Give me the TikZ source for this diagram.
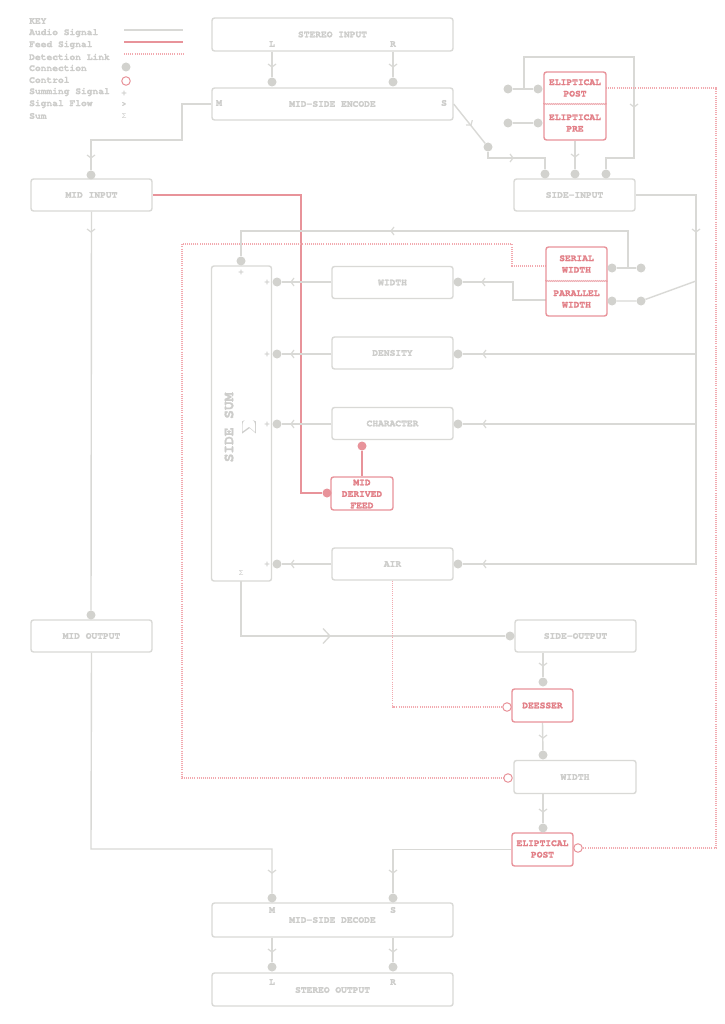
\documentclass[tikz,border=0pt]{standalone}
\usepackage{fontspec}
\setmonofont{TeX Gyre Cursor}[BoldFeatures={FakeBold=1.6}]
\newfontfamily\greekmono{Liberation Mono}
\usetikzlibrary{decorations.pathmorphing}
\pgfdeclarelayer{bg}
\pgfsetlayers{bg,main}
\definecolor{gl}{HTML}{D9D9D6}
\definecolor{gd}{HTML}{D2D2CE}
\definecolor{gt}{HTML}{CDCDCB}
\definecolor{rl}{HTML}{E8939A}
\definecolor{rdet}{HTML}{F2A9AF}
\definecolor{rt}{HTML}{E27F87}
\begin{document}
\begin{tikzpicture}[x=1pt,y=-1pt,
  every node/.style={font=\ttfamily\bfseries\fontsize{9.6}{11.5}\selectfont, inner sep=0pt, text=gt},
  box/.style={draw=gl, line width=1.4pt, rounded corners=2.5pt, fill=white, text=gt},
  rbox/.style={draw=rl, line width=1.4pt, rounded corners=2.5pt, fill=white, text=rt, align=center},
  rtxt/.style={text=rt, align=center},
  small/.style={font=\ttfamily\bfseries\fontsize{8}{9}\selectfont},
  keyt/.style={anchor=west},
  aud/.style={draw=gl, line width=1.4pt},
  feed/.style={draw=rl, line width=1.4pt},
  det/.style={draw=rdet, line width=1.2pt, dash pattern=on 1pt off 1.1pt},
  dot/.style={circle, fill=gd, minimum size=9pt, inner sep=0pt},
  rdot/.style={circle, fill=rl, minimum size=9pt, inner sep=0pt},
  ctl/.style={circle, draw=rl, line width=1pt, minimum size=8.5pt, inner sep=0pt},
  chev/.pic={\draw[gl, line width=1.2pt] (-3,-4) -- (0,0) -- (-3,4);},
  bigchev/.pic={\draw[gl, line width=1.3pt] (-7,-7.5) -- (0,0) -- (-7,7.5);}
]
\useasboundingbox (0,0) rectangle (724,1024);

% ---------------- key
\node[keyt] (k0) at (29,21) {KEY};
\node[keyt] (k1) at (29,33) {Audio Signal};
\node[keyt] (k2) at (29,45) {Feed Signal};
\node[keyt] (k3) at (29,57) {Detection Link};
\node[keyt] (k4) at (29,68) {Connection};
\node[keyt] (k5) at (29,80) {Control};
\node[keyt] (k6) at (29,92) {Summing Signal};
\node[keyt] (k7) at (29,104) {Signal Flow};
\node[keyt] (k8) at (29,116) {Sum};
\coordinate (ka1) at (124,30); \coordinate (kb1) at (183,30);
\coordinate (ka2) at (124,42); \coordinate (kb2) at (183,42);
\coordinate (ka3) at (124,54); \coordinate (kb3) at (183,54);
\draw[aud] (ka1) -- (kb1);
\draw[feed] (ka2) -- (kb2);
\draw[det] (ka3) -- (kb3);
\node[dot] (kd) at (126,67) {};
\node[ctl] (kc) at (126,81) {};
\node[small] (kp) at (124,93) {+};
\node[small] (kf) at (124,104) {>};
\node[font=\greekmono\fontsize{7.5}{9}\selectfont] (ks) at (124,116) {Σ};

% ---------------- top
\node[box, minimum width=241pt, minimum height=33pt] (sin) at (332.5,34.5) {STEREO INPUT};
\node (sinL) at (272,44) {L};
\node (sinR) at (393,44) {R};
\node[box, minimum width=241pt, minimum height=32pt] (enc) at (332.5,104) {MID-SIDE ENCODE};
\node (encM) at (219,103) {M};
\node (encS) at (444,103) {S};
\node[dot] (dL) at (272,82) {};
\node[dot] (dR) at (393,82) {};

\node[box, minimum width=121pt, minimum height=32pt] (midin) at (91.5,195) {MID INPUT};
\node[dot] (dMin) at (91,175) {};
\node[box, minimum width=121pt, minimum height=32pt] (midout) at (91.5,636) {MID OUTPUT};
\node[dot] (dMout) at (91,615) {};

\node[box, minimum width=121pt, minimum height=32pt] (sidein) at (574.5,195) {SIDE-INPUT};
\node[dot] (dSi1) at (545,174) {};
\node[dot] (dSi2) at (575,174) {};
\node[dot] (dSi3) at (606,174) {};
\node[dot] (dS) at (488,147) {};

\node[rbox, minimum width=62pt, minimum height=68pt] (ell) at (575,106) {};
\node[rtxt] (ellpost) at (575,88) {ELIPTICAL\\POST};
\node[rtxt] (ellpre) at (575,123) {ELIPTICAL\\PRE};
\node[dot] (dEa) at (508,89) {};
\node[dot] (dEb) at (538,89) {};
\node[dot] (dEc) at (508,123) {};
\node[dot] (dEd) at (538,123) {};

% ---------------- side chain
\node[rbox, minimum width=61pt, minimum height=69pt] (sw) at (576.5,281.5) {};
\node[rtxt] (swS) at (576.5,264) {SERIAL\\WIDTH};
\node[rtxt] (swP) at (576.5,299) {PARALLEL\\WIDTH};
\node[dot] (dSw1) at (612,268) {};
\node[dot] (dSw2) at (641,268) {};
\node[dot] (dSw3) at (612,301) {};
\node[dot] (dSw4) at (641,301) {};

\node[box, minimum width=60pt, minimum height=315pt] (sum) at (241.5,423.5) {};
\node[font=\ttfamily\bfseries\fontsize{14.5}{16}\selectfont, rotate=90] (sumT) at (229,427.5) {SIDE SUM};
\node[font=\fontsize{17}{20}\selectfont, rotate=90] (sumS) at (249,427) {$\displaystyle\sum$};
\node[font=\greekmono\fontsize{7.5}{9}\selectfont] (sumB) at (241,573) {Σ};
\node[dot] (dSumT) at (241,261) {};
\node[small] (sumP) at (241,272) {+};

\node[box, minimum width=121pt, minimum height=32pt] (wid) at (392.5,282.5) {WIDTH};
\node[box, minimum width=121pt, minimum height=32pt] (den) at (392.5,353) {DENSITY};
\node[box, minimum width=121pt, minimum height=32pt] (chr) at (392.5,423.5) {CHARACTER};
\node[box, minimum width=121pt, minimum height=32pt] (air) at (392.5,564) {AIR};
\foreach \n/\y in {wid/282,den/354,chr/424,air/564}{
  \node[dot] (dL\n) at (277,\y) {};
  \node[small] (p\n) at (267,\y) {+};
  \node[dot] (dR\n) at (458,\y) {};
}

\node[rbox, minimum width=62pt, minimum height=33pt] (mdf) at (362,493.5) {};
\node[rtxt] (mdfT) at (362,494) {MID\\DERIVED\\FEED};
\node[rdot] (rdL) at (327,493) {};
\node[rdot] (rdT) at (362,446) {};

\node[box, minimum width=121pt, minimum height=32pt] (sideout) at (575.5,636) {SIDE-OUTPUT};
\node[dot] (dSo) at (510,636) {};
\node[rbox, minimum width=61pt, minimum height=33pt] (dees) at (542.5,705.5) {DEESSER};
\node[dot] (dDe) at (543,682) {};
\node[ctl] (cDe) at (507,707) {};
\node[box, minimum width=122pt, minimum height=33pt] (wid2) at (575,777) {WIDTH};
\node[dot] (dW2) at (543,755) {};
\node[ctl] (cW2) at (508,778) {};
\node[rbox, minimum width=61pt, minimum height=33pt] (ep2) at (542.5,849.5) {};
\node[rtxt] (ep2T) at (542.5,849) {ELIPTICAL\\POST};
\node[dot] (dEP) at (543,828) {};
\node[ctl] (cEP) at (578,848) {};

% ---------------- bottom
\node[box, minimum width=241pt, minimum height=34pt] (dec) at (332.5,920) {MID-SIDE DECODE};
\node (decM) at (272,910) {M};
\node (decS) at (393,910) {S};
\node[dot] (dDM) at (272,898) {};
\node[dot] (dDS) at (393,898) {};
\node[box, minimum width=241pt, minimum height=33pt] (sout) at (332.5,989.5) {};
\node (soutT) at (332.5,990) {STEREO OUTPUT};
\node (soutL) at (272,982) {L};
\node (soutR) at (393,982) {R};
\node[dot] (dOL) at (272,967) {};
\node[dot] (dOR) at (393,967) {};

% ---------------- connectors
\begin{pgfonlayer}{bg}
\fill[white] (0,0) rectangle (724,1024);
\draw[aud] (dL |- sin.south) -- (dL);
\draw[aud] (dR |- sin.south) -- (dR);
\pic[rotate=-90] at (272,67) {chev};
\pic[rotate=-90] at (393,67) {chev};

\draw[aud] (enc.west) -- (182,104) |- (91,140) -- (dMin);
\pic[rotate=-90] at (91,158) {chev};
\draw[aud] (midin.south) -- (dMout);
\pic[rotate=-90] at (91,232) {chev};
\draw[aud] (midout.south) -- (91,849) -| (dDM);
\pic[rotate=-90] at (272,873) {chev};
\draw[feed] (midin.east) -| (301,493) -- (rdL);

\draw[aud] (enc.east) -- (dS);
\pic[rotate=-52] at (471,125) {chev};
\draw[aud] (dS) -- (488,158) -| (dSi1);
\pic at (513,158) {chev};
\draw[aud] (dEa) -- (dEb);
\draw[aud] (dEc) -- (dEd);
\draw[aud] (524,89) -- (524,57) -- (634,57) -- (634,158) -| (dSi3);
\pic[rotate=-90] at (634,107) {chev};
\draw[aud] (ell.south) -- (dSi2);
\pic[rotate=-90] at (575,157) {chev};
\draw[det] (606,88) -| (716,848) -- (cEP);

\draw[aud] (sidein.east) -| (696,564) -- (dRair);
\draw[aud] (696,354) -- (dRden);
\draw[aud] (696,424) -- (dRchr);
\pic[rotate=-90] at (696,232) {chev};
\foreach \y in {354,424,564}{\pic[rotate=180] at (483,\y) {chev};}
\draw[aud] (dSw1) -- (dSw2);
\draw[aud] (dSw3) -- (dSw4) -- (696,281);
\draw[aud] (628,268) -- (628,231) -| (dSumT);
\pic[rotate=180] at (391,231) {chev};
\draw[aud] (546,300) -| (513,282) -- (dRwid);
\pic[rotate=180] at (482,282) {chev};
\draw[det] (546,266) -| (512,244) -| (182,778) -- (cW2);

\foreach \n/\y in {wid/282,den/354,chr/424,air/564}{
  \draw[aud] (\n.west |- 0,\y) -- (dL\n);
  \pic[rotate=180] at (291,\y) {chev};
}
\draw[feed] (rdT) -- (mdf.north);

\draw[aud] (241,581) -- (241,636) -- (dSo);
\pic at (330,636) {bigchev};
\draw[aud] (dDe |- sideout.south) -- (dDe);
\pic[rotate=-90] at (543,666) {chev};
\draw[det] (air.south) |- (cDe);
\draw[aud] (dees.south) -- (dW2);
\pic[rotate=-90] at (543,738) {chev};
\draw[aud] (dEP |- wid2.south) -- (dEP);
\pic[rotate=-90] at (543,812) {chev};
\draw[aud] (ep2.west) -| (dDS);
\pic[rotate=-90] at (393,873) {chev};
\draw[aud] (dOL |- dec.south) -- (dOL);
\draw[aud] (dOR |- dec.south) -- (dOR);
\pic[rotate=-90] at (272,952) {chev};
\pic[rotate=-90] at (393,952) {chev};
\end{pgfonlayer}
\draw[rl, line width=0.6pt, decorate, decoration={zigzag, amplitude=0.6pt, segment length=2pt}] (ell.west |- 0,104) -- (ell.east |- 0,104);
\draw[rl, line width=0.6pt, decorate, decoration={zigzag, amplitude=0.6pt, segment length=2pt}] (sw.west |- 0,281) -- (sw.east |- 0,281);
\end{tikzpicture}
\end{document}
